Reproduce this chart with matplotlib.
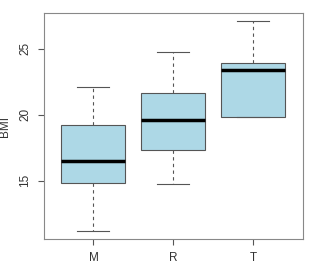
import matplotlib
matplotlib.use("Agg")
import matplotlib.pyplot as plt

plt.rcParams['font.family'] = ['Liberation Sans', 'DejaVu Sans']

groups = ["M", "R", "T"]
whis_lo = [11.2, 14.75, 19.8]
q1 = [14.8, 17.35, 19.8]
med = [16.45, 19.55, 23.35]
q3 = [19.2, 21.65, 23.9]
whis_hi = [22.05, 24.75, 27.05]

stats = []
for i in range(len(groups)):
    stats.append({"label": groups[i], "whislo": whis_lo[i], "q1": q1[i],
                  "med": med[i], "q3": q3[i], "whishi": whis_hi[i], "fliers": []})

fig = plt.figure(figsize=(3.18, 2.68), dpi=100)
ax = fig.add_axes([0.138, 0.108, 0.815, 0.843])

ax.bxp(stats, positions=[1, 2, 3], widths=0.8, patch_artist=True,
       showfliers=False,
       boxprops=dict(facecolor="#add8e6", edgecolor="#555555", linewidth=0.8),
       medianprops=dict(color="black", linewidth=2.5),
       whiskerprops=dict(color="#555555", linewidth=0.8, linestyle=(0, (3, 3))),
       capprops=dict(color="#555555", linewidth=0.8),
       capwidths=0.4)

lo, hi = min(whis_lo), max(whis_hi)
pad = (hi - lo) * 0.04
ax.set_ylim(lo - pad, hi + pad)
ax.set_xlim(0.38, 3.62)
ax.set_yticks([15, 20, 25])
ax.set_yticklabels(["15", "20", "25"], rotation=90, va="center")
ax.set_xticks([1, 2, 3])
ax.set_xticklabels(groups)
ax.set_ylabel("BMI", fontsize=8.5, color="#333333")
ax.yaxis.set_label_coords(-0.125, 0.5)
ax.tick_params(labelsize=8.5, color="#555555", labelcolor="#333333", length=4, pad=5)
for s in ax.spines.values():
    s.set_color("#888888")
    s.set_linewidth(0.8)

fig.savefig("out.png", dpi=100)
